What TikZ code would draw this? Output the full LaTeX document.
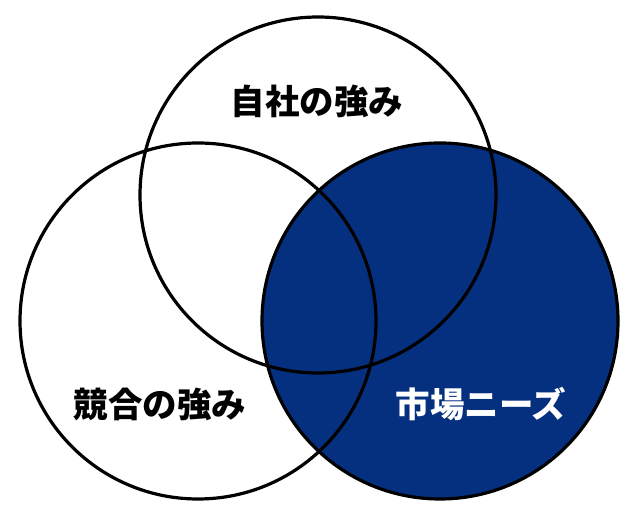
\documentclass[tikz,border=0pt]{standalone}
\usepackage{fontspec}
\newfontfamily\jpfont{Noto Sans CJK JP}
\definecolor{navy}{RGB}{5,48,128}
\tikzset{
    ring/.style={circle, draw=black, line width=3.2pt, minimum size=356pt, inner sep=0pt},
    caption/.style={font=\jpfont\bfseries\fontsize{34.5}{34.5}\selectfont, inner sep=0pt}
}
\begin{document}
\begin{tikzpicture}[x=1pt, y=-1pt]
    \useasboundingbox (0,0) rectangle (640,510);
    % filled market circle goes first so the other outlines show on top
    \node [ring, fill=navy] (market) at (440,321) {};
    \node [ring] (self) at (318,195) {};
    \node [ring] (rival) at (198,321) {};
    % labels
    \node [caption] (selflabel) at (317,101) {自社の強み};
    \node [caption] (rivallabel) at (160,404) {競合の強み};
    \node [caption, text=white] (marketlabel) at (481,404) {市場ニーズ};
\end{tikzpicture}
\end{document}
